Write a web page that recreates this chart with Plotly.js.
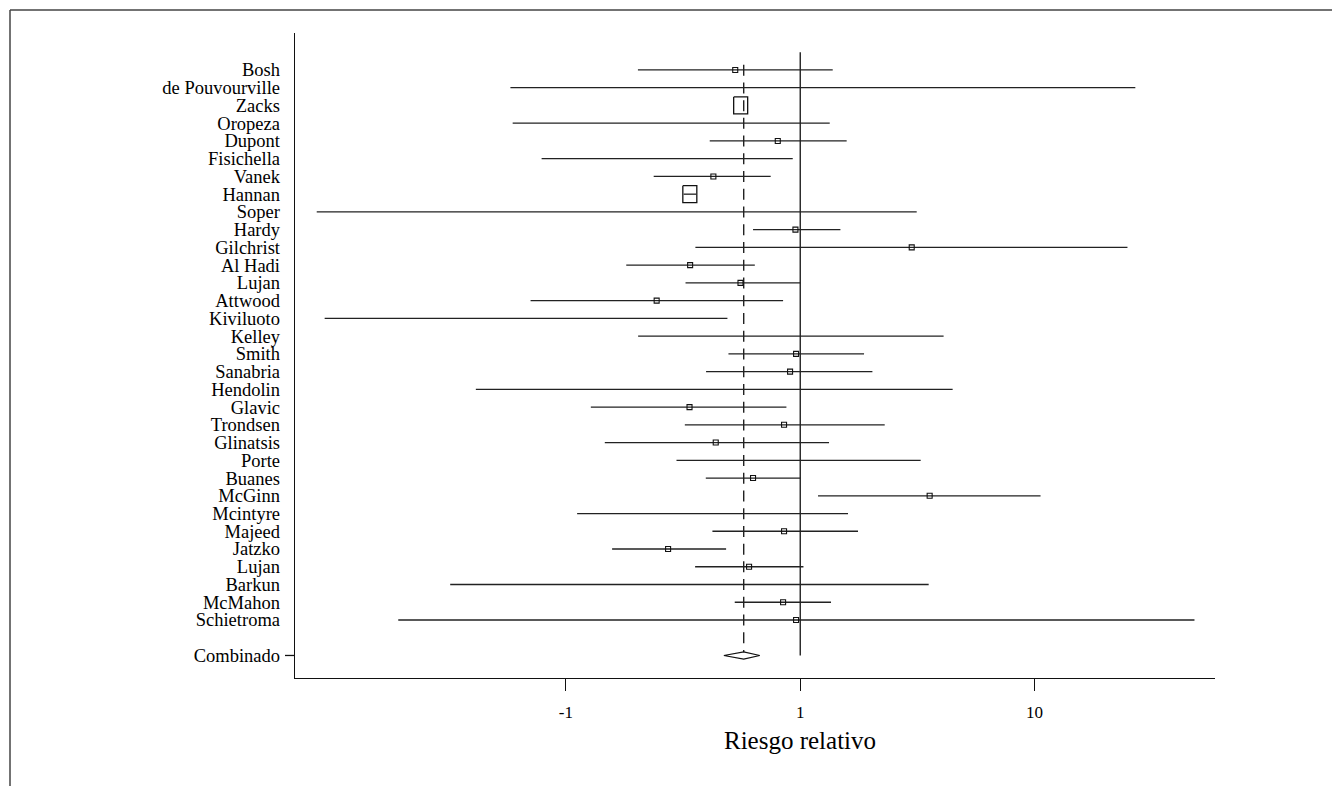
<!DOCTYPE html>
<html>
<head>
<meta charset="utf-8">
<script src="https://cdn.plot.ly/plotly-3.0.1.min.js"></script>
<style>
html,body{margin:0;padding:0;background:#fff;}
#chart{width:1332px;height:786px;}
</style>
</head>
<body>
<div id="chart"></div>
<script>
// ---- data ----
const studies = ['Bosh','de Pouvourville','Zacks','Oropeza','Dupont','Fisichella','Vanek','Hannan','Soper','Hardy',
  'Gilchrist','Al Hadi','Lujan','Attwood','Kiviluoto','Kelley','Smith','Sanabria','Hendolin','Glavic',
  'Trondsen','Glinatsis','Porte','Buanes','McGinn','Mcintyre','Majeed','Jatzko','Lujan','Barkun',
  'McMahon','Schietroma'];
// point estimate (null = no box visible)
const estimate = [0.528, null, 0.557, null, 0.802, null, 0.426, 0.338, null, 0.954,
  2.99, 0.339, 0.556, 0.244, null, null, 0.960, 0.905, null, 0.337,
  0.853, 0.436, null, 0.629, 3.566, null, 0.853, 0.273, 0.605, null,
  0.845, 0.960];
const ciLow = [0.203, 0.058, 0.557, 0.0593, 0.411, 0.0788, 0.237, 0.318, 0.00865, 0.629,
  0.357, 0.181, 0.324, 0.0707, 0.00935, 0.2034, 0.494, 0.3965, 0.0413, 0.1278,
  0.3218, 0.1466, 0.2965, 0.3954, 1.191, 0.1117, 0.422, 0.1575, 0.356, 0.0321,
  0.5255, 0.01927];
const ciHigh = [1.376, 26.9, 0.557, 1.336, 1.578, 0.929, 0.748, 0.360, 3.14, 1.484,
  24.9, 0.640, 1.0, 0.845, 0.489, 4.09, 1.872, 2.032, 4.47, 0.873,
  2.293, 1.327, 3.265, 1.0, 10.6, 1.599, 1.764, 0.4827, 1.032, 3.532,
  1.353, 48.1];
const largeBoxStudies = [2, 7];   // rows drawn with the large box (Zacks, Hannan)
const pooledLabel = 'Combinado';
const pooledEstimate = 0.574;
const pooledLow = 0.472;
const pooledHigh = 0.672;
const nullValue = 1;
const xTickVals = [0.1, 1, 10];
const xTickText = ['-1', '1', '10'];
const xTitle = 'Riesgo relativo';

// ---- build ----
const FONT = 'Liberation Serif, Times New Roman, serif';
const rows = studies.map((_, i) => i + 1);
const pooledRow = studies.length + 2;

const ciX = [], ciY = [];
studies.forEach((_, i) => {
  ciX.push(ciLow[i], ciHigh[i], null);
  ciY.push(rows[i], rows[i], null);
});

const smallX = [], smallY = [];
studies.forEach((_, i) => {
  if (estimate[i] !== null && largeBoxStudies.indexOf(i) < 0) {
    smallX.push(estimate[i]); smallY.push(rows[i]);
  }
});

const dh = 0.2;
const diamond = {
  x: [pooledLow, pooledEstimate, pooledHigh, pooledEstimate, pooledLow],
  y: [pooledRow, pooledRow - dh, pooledRow, pooledRow + dh, pooledRow],
  mode: 'lines', fill: 'toself', fillcolor: '#fff',
  line: {color: '#111', width: 1.2}, hoverinfo: 'skip', showlegend: false
};

const refLine = {x: [nullValue, nullValue], y: [0, pooledRow], mode: 'lines',
  line: {color: '#111', width: 1.3}, hoverinfo: 'skip', showlegend: false};
const pooledLine = {x: [pooledEstimate, pooledEstimate], y: [rows[0] - 0.3, pooledRow - dh], mode: 'lines',
  line: {color: '#111', width: 1.3, dash: '11px,6.74px'}, hoverinfo: 'skip', showlegend: false};

const bigX = [], bigY = [];
const halfW = 7 / 234.5, halfH = 8.5 / 17.74;
largeBoxStudies.forEach(i => {
  const e = estimate[i], r = rows[i];
  const a = e / Math.pow(10, halfW), b = e * Math.pow(10, halfW);
  bigX.push(a, b, b, a, a, null);
  bigY.push(r - halfH, r - halfH, r + halfH, r + halfH, r - halfH, null);
});
const bigBoxes = {x: bigX, y: bigY, mode: 'lines', line: {color: '#111', width: 1.3},
  hoverinfo: 'skip', showlegend: false};

const traces = [
  refLine, pooledLine,
  {x: ciX, y: ciY, mode: 'lines', line: {color: '#222', width: 1.3}, hoverinfo: 'skip', showlegend: false},
  bigBoxes,
  {x: smallX, y: smallY, mode: 'markers',
   marker: {symbol: 'square-open', size: 5, color: '#111', line: {width: 1.1, color: '#111'}},
   showlegend: false},
  diamond
];

const L = 295, R = 117, T = 33, B = 108, W = 1332, H = 786;
const pw = W - L - R, ph = H - T - B;
const px2paperX = p => (p - L) / pw;
const py2paperY = p => (H - B - p) / ph;

const shapes = [
  {type: 'line', xref: 'paper', yref: 'y', x0: px2paperX(285), x1: 0, y0: pooledRow, y1: pooledRow,
   line: {color: '#111', width: 1.3}},
  {type: 'line', xref: 'paper', yref: 'paper', x0: px2paperX(10), x1: px2paperX(1332),
   y0: py2paperY(10), y1: py2paperY(10), line: {color: '#444', width: 1.5}},
  {type: 'line', xref: 'paper', yref: 'paper', x0: px2paperX(10), x1: px2paperX(10),
   y0: py2paperY(10), y1: py2paperY(786), line: {color: '#444', width: 1.5}}
];

const layout = {
  width: W, height: H,
  margin: {l: L, r: R, t: T, b: B, pad: 0},
  paper_bgcolor: '#fff', plot_bgcolor: '#fff',
  font: {family: FONT, color: '#000'},
  showlegend: false,
  xaxis: {
    type: 'log', range: [-2.1557, 1.7697],
    tickvals: xTickVals, ticktext: xTickText,
    ticks: 'outside', ticklen: 12, tickwidth: 1.2, tickcolor: '#111',
    ticklabelstandoff: 6,
    tickfont: {family: FONT, size: 17, color: '#000'},
    showline: true, linecolor: '#111', linewidth: 1.3,
    showgrid: false, zeroline: false, fixedrange: true
  },
  yaxis: {
    range: [35.27, -1.084],
    tickvals: rows.concat([pooledRow]), ticktext: studies.concat([pooledLabel]),
    ticks: '', ticklabelstandoff: 10,
    tickfont: {family: FONT, size: 18.5, color: '#000'},
    showline: true, linecolor: '#111', linewidth: 1.3,
    showgrid: false, zeroline: false, fixedrange: true
  },
  shapes: shapes,
  annotations: [{
    text: xTitle, xref: 'x', x: Math.log10(nullValue), yref: 'paper', y: py2paperY(740),
    xanchor: 'center', yanchor: 'middle', showarrow: false,
    font: {family: FONT, size: 25, color: '#000'}
  }]
};

Plotly.newPlot('chart', traces, layout, {displayModeBar: false, staticPlot: true});
</script>
</body>
</html>
